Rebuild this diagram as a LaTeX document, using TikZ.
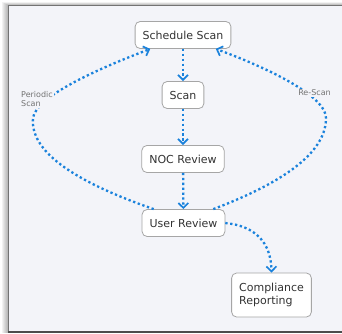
\documentclass[tikz,border=0pt]{standalone}
\usepackage{fontspec}
\setmainfont{DejaVu Sans}
\usetikzlibrary{arrows.meta}
\definecolor{flowblue}{RGB}{26,130,220}
\definecolor{canvas}{RGB}{243,244,249}

\begin{document}
\begin{tikzpicture}[x=1pt, y=-1pt,
  every node/.style={font=\fontsize{11}{13.5}\selectfont, text=black!80},
  box/.style={draw=black!35, line width=0.8pt, fill=white, rounded corners=5pt, inner xsep=7.5pt, minimum height=27pt},
  flow/.style={draw=flowblue, line width=2.3pt, dash pattern=on 2.3pt off 2.6pt,
    -{Straight Barb[length=5pt,width=10pt,line width=1.7pt]}},
  tag/.style={font=\fontsize{8}{9.5}\selectfont, text=black!55, fill=canvas, align=left, inner sep=1pt}]
\useasboundingbox (0,0) rectangle (342,333);
\foreach \k in {1,...,6} \fill[black, opacity=0.05] (8-\k,5-\k/2) rectangle (342,333);
\fill[canvas] (8,5) rectangle (343,331);
\draw[black!55, line width=1pt] (343,5) -- (8.5,5) -- (8.5,331);
\draw[black!70, line width=2pt] (8,332) -- (343,332);

\node[box] (sched) at (183,35) {Schedule Scan};
\node[box] (scan) at (183,95) {Scan};
\node[box] (noc) at (183,159) {NOC Review};
\node[box] (urev) at (183.5,223) {User Review};
\node[box, align=left, minimum height=44pt] (comp) at (271.5,295) {Compliance\\Reporting};

\foreach \a/\b in {sched/scan,scan/noc,noc/urev} \draw[flow] (\a) -- (\b);
\draw[flow] (urev.155) .. controls (70,180) and (30,150) .. (33,118)
  .. controls (36,96) and (100,68) .. (sched.203);
\draw[flow] (urev.25) .. controls (290,180) and (326,150) .. (326,118)
  .. controls (326,96) and (268,68) .. (sched.337);
\draw[flow] (urev.east) .. controls (255,226) and (271,242) .. (comp.north);

\node[tag] (ptag) at (37,99) {Periodic\\Scan};
\node[tag] (rtag) at (314.5,93) {Re-Scan};
\end{tikzpicture}
\end{document}
